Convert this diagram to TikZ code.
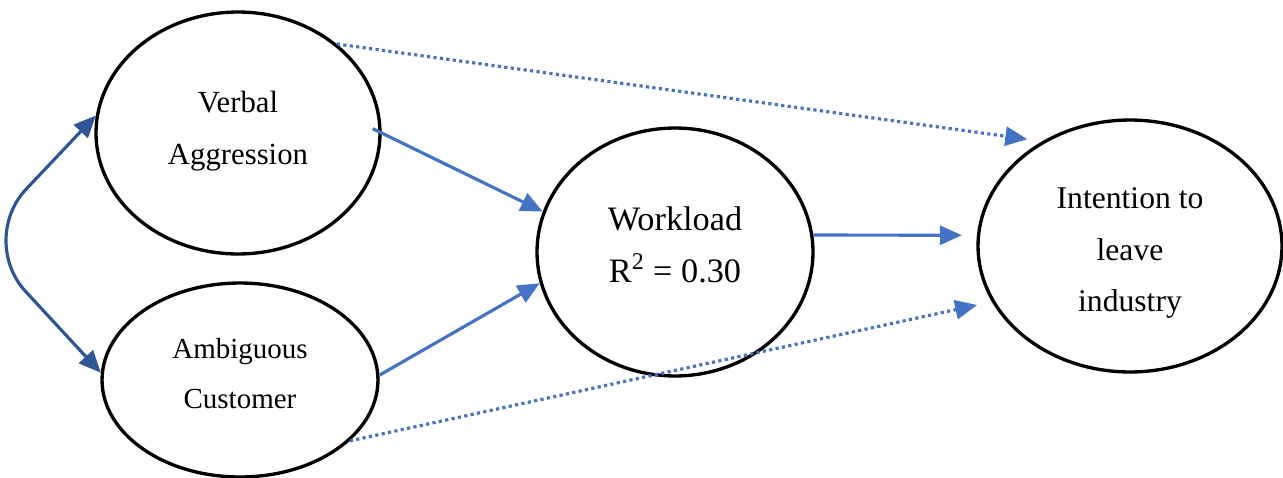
\documentclass[tikz,border=0pt]{standalone}
\usepackage{fontspec}
\setmainfont{Liberation Serif}
\usetikzlibrary{shapes.geometric,arrows.meta}
\definecolor{arrowblue}{HTML}{4472C4}
\definecolor{darkblue}{HTML}{2F5597}
\begin{document}
\begin{tikzpicture}[x=0.02cm, y=-0.02cm,
  construct/.style={ellipse, draw, line width=1.9pt},
  caption/.style={align=center, inner sep=0pt},
  path arrow/.style={-{Triangle[length=0.44cm, width=0.38cm]}, arrowblue, line width=1.8pt},
  dotted arrow/.style={path arrow, dash pattern=on 1.8pt off 1.9pt}]
\useasboundingbox (0,0) rectangle (1283,477);
% constructs
\node[construct, minimum width=5.68cm, minimum height=4.84cm,
  label={[caption, font=\fontsize{17.5}{30}\selectfont, yshift=1pt]center:Verbal\\Aggression}]
  (verbal) at (238,133) {};
\node[construct, minimum width=5.52cm, minimum height=3.88cm,
  label={[caption, font=\fontsize{16.5}{28.5}\selectfont, yshift=3.5pt]center:Ambiguous\\Customer}]
  (ambig) at (240,380) {};
\node[construct, minimum width=5.52cm, minimum height=4.96cm,
  label={[caption, font=\fontsize{19.5}{30}\selectfont, yshift=4pt]center:Workload\\R\textsuperscript{2} = 0.30}]
  (workload) at (675,252) {};
\node[construct, minimum width=6.08cm, minimum height=5.04cm,
  label={[caption, font=\fontsize{18}{29.5}\selectfont, yshift=-4pt]center:Intention to\\leave\\industry}]
  (intent) at (1130,246) {};
\coordinate (bend) at (-22,240);
% paths
\draw[path arrow, shorten <=-0.2cm] (verbal.east) -- (workload.163);
\draw[path arrow] (ambig.2) -- (workload.193);
\draw[path arrow, shorten >=0.3cm] (workload.7) -- (intent.176);
\draw[dotted arrow, shorten >=0.3cm] (verbal.42) -- (intent.130);
\draw[dotted arrow, shorten >=0.3cm] (ambig.-29) -- (intent.202);
% correlation
\draw[{Triangle[length=0.44cm, width=0.38cm]}-{Triangle[length=0.44cm, width=0.38cm]}, darkblue,
  line width=1.8pt, rounded corners=1.4cm]
  (verbal.173) -- (bend) -- (ambig.177);
\end{tikzpicture}
\end{document}
